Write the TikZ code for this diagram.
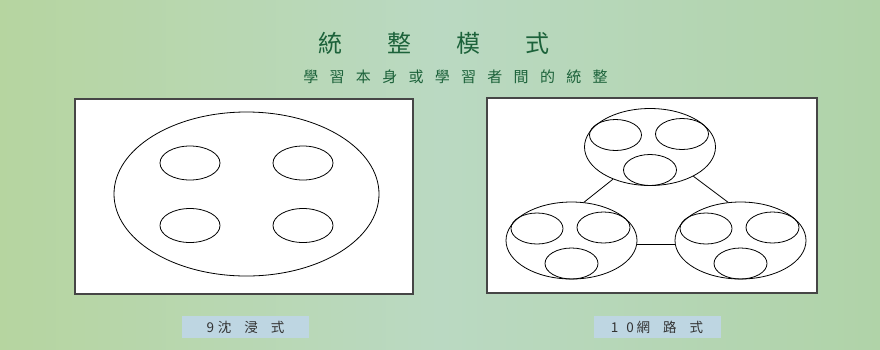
\documentclass[tikz,border=0pt]{standalone}
\usepackage{fontspec}
\newfontfamily\cjk{Noto Sans CJK TC}
\usetikzlibrary{shapes.geometric}
\definecolor{bgL}{RGB}{182,213,160}
\definecolor{bgM}{RGB}{186,217,194}
\definecolor{bgR}{RGB}{176,211,168}
\definecolor{titlegreen}{RGB}{28,98,58}
\definecolor{labelblue}{RGB}{190,214,226}
\definecolor{boxline}{RGB}{70,70,70}
\tikzset{
  panel/.style={draw=boxline, fill=white, line width=1.3pt},
  ell/.style={ellipse, draw=black, inner sep=0pt, line width=0.8pt},
  link/.style={draw=black, line width=0.8pt},
  caption/.style={fill=labelblue, inner sep=0pt, minimum width=127pt, minimum height=22pt, text=black!80, font=\cjk\fontsize{13.5}{15}\selectfont},
}
\begin{document}
\begin{tikzpicture}[x=1pt,y=-1pt]
\useasboundingbox (0,0) rectangle (880,349);
\shade[left color=bgL, right color=bgR, middle color=bgM] (0,0) rectangle (880,349);

% titles
\node[text=titlegreen, font=\cjk\fontsize{24}{26}\selectfont, inner sep=0pt] (title) at (434,43)
  {統\hspace{45pt}整\hspace{45pt}模\hspace{45pt}式};
\node[text=titlegreen, font=\cjk\fontsize{15}{17}\selectfont, inner sep=0pt] (subtitle) at (455.5,76.5)
  {學\hspace{11.3pt}習\hspace{11.3pt}本\hspace{11.3pt}身\hspace{11.3pt}或\hspace{11.3pt}學\hspace{11.3pt}習\hspace{11.3pt}者\hspace{11.3pt}間\hspace{11.3pt}的\hspace{11.3pt}統\hspace{11.3pt}整};

% left panel
\node[panel, minimum width=338pt, minimum height=195pt, inner sep=0pt] (lpanel) at (244,196.5) {};
\node[ell, minimum width=265pt, minimum height=164pt] (big) at (246.5,194) {};
\node[ell, minimum width=60pt, minimum height=34pt] (a1) at (190,163) {};
\node[ell, minimum width=60pt, minimum height=34pt] (a2) at (303,163) {};
\node[ell, minimum width=60pt, minimum height=34pt] (a3) at (190,225.5) {};
\node[ell, minimum width=60pt, minimum height=34pt] (a4) at (303,225.5) {};

% right panel
\node[panel, minimum width=330pt, minimum height=195pt, inner sep=0pt] (rpanel) at (652,195.5) {};
\foreach \n/\cx/\cy in {top/650/147, bl/571.5/240.5, br/740.5/240.5}{
  \node[ell, minimum width=131pt, minimum height=77pt] (\n) at (\cx,\cy) {};
  \node[ell, minimum width=52pt, minimum height=31pt] (\n-l) at (\cx-34.5,\cy-12) {};
  \node[ell, minimum width=53pt, minimum height=31pt] (\n-r) at (\cx+32,\cy-13) {};
  \node[ell, minimum width=53pt, minimum height=31pt] (\n-b) at (\cx,\cy+23) {};
}
\draw[link] (top.221) -- (bl.72);
\draw[link] (top.326) -- (br.108);
\draw[link] (bl.-3) -- (br.183);

% captions
\node[caption] (cap1) at (245.5,327) {9\hspace{4pt}沈\hspace{13pt}浸\hspace{13pt}式};
\node[caption] (cap2) at (657,327) {1\hspace{8pt}0\hspace{3pt}網\hspace{13pt}路\hspace{13pt}式};
\end{tikzpicture}
\end{document}
